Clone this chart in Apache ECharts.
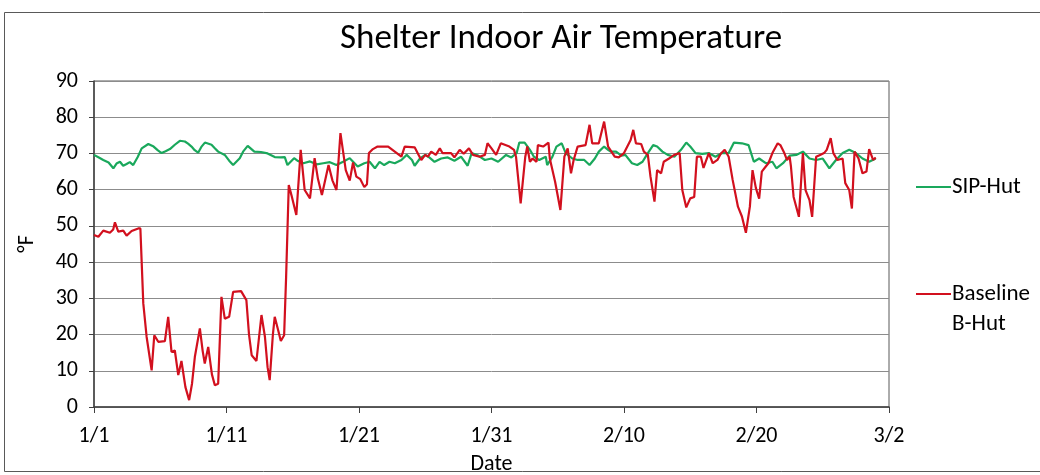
<!DOCTYPE html>
<html>
<head>
<meta charset="utf-8">
<script src="https://cdn.jsdelivr.net/npm/echarts@6/dist/echarts.min.js"></script>
<style>
html,body{margin:0;padding:0;background:#fff;}
#chart{width:1040px;height:475px;}
</style>
</head>
<body>
<div id="chart"></div>
<script>
// x values are days elapsed since 1/1 (00:00)
const tickLabels = ['1/1', '1/11', '1/21', '1/31', '2/10', '2/20', '3/2'];
const seriesNames = ['SIP-Hut', 'Baseline B-Hut'];

const sipHut = [
  [0,69.6],[0.4,68.8],[0.7,68.2],[1.1,67.5],[1.46,65.9],[1.7,67.2],[1.96,67.7],[2.2,66.6],[2.46,67.1],[2.7,67.6],
  [2.96,66.8],[3.3,69.0],[3.6,71.4],[4.1,72.6],[4.5,71.9],[4.8,70.9],[5.1,70.1],[5.4,70.6],[5.73,71.2],[6.1,72.4],
  [6.48,73.5],[6.86,73.3],[7.1,72.7],[7.36,71.9],[7.6,70.9],[7.86,70.2],[8.1,71.8],[8.37,73.0],[8.87,72.4],[9.1,71.5],
  [9.37,70.5],[9.87,69.6],[10.2,68.0],[10.5,66.8],[11.0,68.7],[11.25,70.5],[11.6,72.1],[12.1,70.5],[12.6,70.4],[13.1,70.0],
  [13.64,69.0],[14.1,68.9],[14.4,69.0],[14.6,66.8],[15.1,68.7],[15.4,67.9],[15.8,67.3],[16.3,67.8],[16.8,67.0],[17.3,67.3],
  [17.8,67.6],[18.3,66.8],[18.8,67.7],[19.3,68.7],[19.9,66.4],[20.4,67.3],[20.8,67.7],[21.2,65.9],[21.55,67.7],[21.9,66.8],
  [22.3,67.7],[22.7,67.3],[23.2,68.2],[23.6,69.6],[24.0,68.2],[24.2,66.6],[24.6,68.6],[25.0,69.6],[25.3,68.9],[25.7,67.7],
  [26.2,68.6],[26.7,68.9],[27.2,68.0],[27.7,69.1],[28.2,66.6],[28.5,70.1],[29.0,69.4],[29.5,68.2],[30.0,68.6],[30.5,67.7],
  [31.1,69.6],[31.5,68.9],[31.9,70.1],[32.1,73.0],[32.5,73.0],[32.9,71.0],[33.2,69.1],[33.6,68.2],[34.1,69.1],[34.2,66.8],
  [34.6,69.1],[34.9,71.9],[35.3,72.8],[35.6,70.1],[36.1,68.6],[36.5,68.2],[37.0,68.2],[37.4,66.8],[37.8,68.6],[38.1,70.5],
  [38.5,71.9],[38.8,71.0],[39.0,70.5],[39.4,70.5],[39.8,69.4],[40.1,69.6],[40.6,67.3],[41.0,66.8],[41.4,67.7],[41.8,70.1],
  [42.2,72.3],[42.5,71.9],[42.9,70.5],[43.3,69.6],[43.8,69.1],[44.3,71.0],[44.7,73.0],[45.0,71.9],[45.4,70.1],[45.9,69.9],
  [46.4,70.1],[46.9,69.1],[47.4,70.1],[47.9,70.1],[48.3,73.0],[48.9,72.8],[49.4,72.3],[49.8,67.7],[50.2,68.6],[50.7,67.3],
  [51.2,67.7],[51.5,65.9],[52.0,67.3],[52.5,69.4],[53.0,69.6],[53.5,70.5],[54.0,68.6],[54.5,68.2],[55.0,68.6],[55.5,65.9],
  [56.0,68.2],[56.5,70.1],[57.0,71.0],[57.5,70.1],[58.0,68.6],[58.5,67.7],[59.0,68.6]
];

const baselineBHut = [
  [0,47.5],[0.33,47.0],[0.7,48.7],[1.2,48.1],[1.45,49.0],[1.58,51.0],[1.83,48.4],[2.21,48.7],[2.46,47.3],[2.84,48.6],
  [3.34,49.3],[3.5,49.3],[3.72,28.6],[3.97,19.4],[4.35,10.1],[4.55,19.8],[4.85,18.0],[5.35,18.2],[5.6,24.9],[5.85,15.2],
  [6.1,15.6],[6.36,8.8],[6.6,12.7],[6.9,5.5],[7.18,1.9],[7.4,6.5],[7.61,13.8],[7.99,21.7],[8.2,15.5],[8.36,12.0],
  [8.62,16.6],[8.9,9.0],[9.12,6.0],[9.37,6.4],[9.62,30.4],[9.87,24.4],[10.2,24.9],[10.5,31.8],[11.1,32.0],[11.5,29.5],
  [11.7,20.0],[11.9,14.3],[12.26,12.7],[12.64,25.4],[12.9,19.4],[13.1,11.0],[13.26,7.4],[13.5,20.0],[13.64,24.9],[13.9,21.2],
  [14.1,18.2],[14.35,19.8],[14.5,36.0],[14.7,61.3],[14.9,58.5],[15.27,53.0],[15.6,71.0],[15.9,59.9],[16.3,57.6],[16.65,68.7],
  [16.9,63.0],[17.2,58.5],[17.7,66.8],[18.0,62.5],[18.3,59.9],[18.6,75.6],[19.0,65.4],[19.3,62.5],[19.55,67.5],[19.8,63.6],
  [20.1,62.9],[20.4,60.7],[20.6,61.5],[20.75,70.1],[21.05,71.2],[21.4,71.9],[22.2,71.9],[22.7,70.5],[23.2,69.1],[23.45,71.9],
  [24.2,71.7],[24.5,69.6],[24.7,68.2],[25.0,69.6],[25.2,69.1],[25.45,70.5],[25.8,69.6],[26.1,71.4],[26.3,70.1],[26.95,70.1],
  [27.2,68.9],[27.6,71.0],[27.9,69.9],[28.3,71.4],[28.6,69.6],[29.1,69.1],[29.5,69.6],[29.7,72.8],[30.0,71.4],[30.35,69.6],
  [30.7,72.8],[31.35,71.9],[31.7,71.0],[31.85,69.1],[32.2,56.2],[32.55,69.1],[32.7,71.9],[32.9,67.7],[33.1,68.6],[33.4,67.7],
  [33.5,72.3],[33.9,71.9],[34.3,73.0],[34.4,68.6],[34.8,62.2],[35.2,54.4],[35.5,69.1],[35.75,71.4],[36.0,64.5],[36.2,68.2],
  [36.5,71.9],[37.1,72.3],[37.4,77.9],[37.6,72.8],[38.1,72.8],[38.5,78.8],[38.8,71.9],[39.3,69.1],[39.6,68.9],[40.0,70.1],
  [40.5,73.7],[40.7,76.5],[40.9,72.8],[41.3,72.6],[41.5,70.5],[41.8,69.6],[42.0,63.6],[42.3,56.7],[42.5,65.4],[42.8,64.5],
  [43.0,67.7],[43.4,68.6],[43.8,69.6],[44.2,70.1],[44.4,59.9],[44.7,55.1],[45.0,57.6],[45.3,58.0],[45.5,69.1],[45.8,69.1],
  [46.0,66.0],[46.4,70.1],[46.7,67.3],[47.05,68.2],[47.3,69.9],[47.6,71.0],[47.9,69.1],[48.2,62.7],[48.6,55.3],[48.9,52.6],
  [49.2,48.1],[49.5,55.3],[49.7,65.4],[49.95,60.5],[50.2,57.5],[50.4,65.0],[50.7,66.4],[50.9,67.3],[51.2,70.1],[51.6,72.8],
  [51.8,72.3],[52.1,70.1],[52.3,68.2],[52.5,69.1],[52.6,66.4],[52.8,58.0],[53.2,52.5],[53.5,70.1],[53.7,59.9],[54.0,57.1],
  [54.2,52.5],[54.5,69.1],[54.8,69.6],[55.1,70.1],[55.3,71.0],[55.6,74.2],[55.8,70.1],[56.1,68.2],[56.5,68.6],[56.7,61.8],
  [57.0,59.9],[57.2,54.8],[57.4,70.5],[57.7,68.6],[58.0,64.5],[58.3,65.0],[58.5,71.2],[58.8,68.2],[59.0,68.9]
];

const FONT = 'Carlito, Lato, "Liberation Sans", sans-serif';
const GREEN = '#1aa85c';
const RED = '#d2101e';

const chart = echarts.init(document.getElementById('chart'), null, {renderer: 'canvas'});
chart.setOption({
  backgroundColor: '#ffffff',
  animation: false,
  title: {
    text: 'Shelter Indoor Air Temperature',
    left: 556, top: 17, textAlign: 'center',
    textStyle: {fontFamily: FONT, fontSize: 35, fontWeight: 'normal', color: '#000'}
  },
  graphic: [{
    type: 'rect', silent: true, z: -1,
    shape: {x: 4.5, y: 12.5, width: 1060, height: 459},
    style: {fill: 'none', stroke: '#595959', lineWidth: 1}
  }],
  legend: [
    {
      data: [seriesNames[0]], orient: 'vertical', left: 911, top: 167,
      itemWidth: 35, itemHeight: 12, itemGap: 0, icon: 'path://M0,5L35,5L35,7L0,7Z',
      textStyle: {fontFamily: FONT, fontSize: 23, color: '#000', lineHeight: 30, padding: [0,0,0,-4]}
    },
    {
      data: [seriesNames[1]], orient: 'vertical', left: 911, top: 244,
      itemWidth: 35, itemHeight: 12, itemGap: 0, icon: 'path://M0,5L35,5L35,7L0,7Z',
      // blank first line keeps "Baseline" level with the legend line, as in the reference
      formatter: n => ' \nBaseline\nB-Hut',
      textStyle: {fontFamily: FONT, fontSize: 23, color: '#000', lineHeight: 30, padding: [0,0,0,-4]}
    }
  ],
  grid: {left: 94, right: 151, top: 81, bottom: 68, outerBoundsMode: 'none', containLabel: false,
    show: true, borderColor: '#595959', borderWidth: 1},
  xAxis: {
    type: 'value', min: 0, max: 60, interval: 10,
    name: 'Date', nameLocation: 'middle', nameGap: 46,
    nameTextStyle: {fontFamily: FONT, fontSize: 22, color: '#000'},
    axisLine: {show: true, lineStyle: {color: '#404040', width: 1.5}},
    axisTick: {show: true, inside: false, length: 6, lineStyle: {color: '#404040'}},
    axisLabel: {fontFamily: FONT, fontSize: 22, color: '#000', margin: 18,
      formatter: v => tickLabels[Math.round(v / 10)]},
    splitLine: {show: false}
  },
  yAxis: {
    type: 'value', min: 0, max: 90, interval: 10,
    name: '°F', nameLocation: 'middle', nameGap: 56, nameRotate: 90,
    nameTextStyle: {fontFamily: FONT, fontSize: 22, color: '#000'},
    axisLine: {show: true, lineStyle: {color: '#404040', width: 1.5}},
    axisTick: {show: true, inside: false, length: 5, lineStyle: {color: '#404040'}},
    axisLabel: {fontFamily: FONT, fontSize: 22, color: '#000', margin: 16},
    splitLine: {show: true, lineStyle: {color: '#8c8c8c', width: 1}}
  },
  series: [
    {name: seriesNames[0], type: 'line', data: sipHut, symbol: 'none', smooth: false,
     lineStyle: {color: GREEN, width: 2.2}, itemStyle: {color: GREEN}},
    {name: seriesNames[1], type: 'line', data: baselineBHut, symbol: 'none', smooth: false,
     lineStyle: {color: RED, width: 2.2}, itemStyle: {color: RED}}
  ]
});
</script>
</body>
</html>
